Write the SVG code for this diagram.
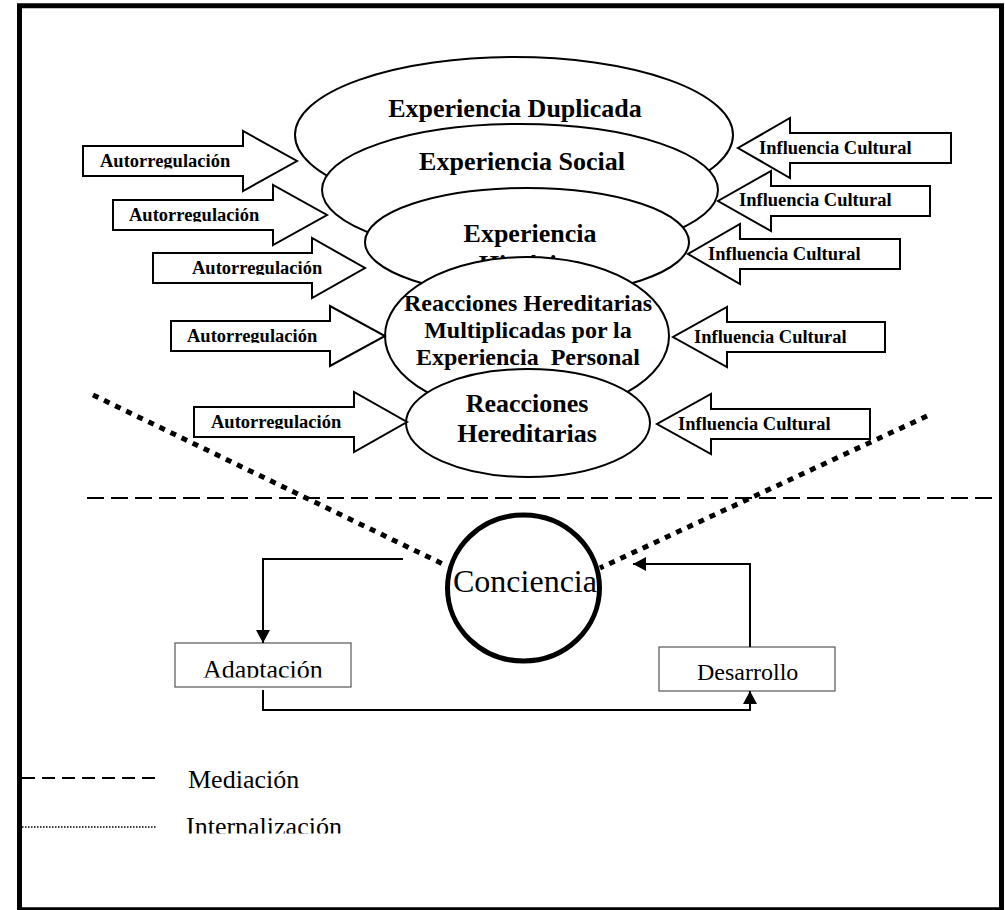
<svg xmlns="http://www.w3.org/2000/svg" width="1005" height="910" viewBox="0 0 1005 910">
<style>
.t{font-family:"Liberation Serif","Times New Roman",serif;fill:#000}
.b{font-weight:bold}
.ell{fill:#fff;stroke:#000;stroke-width:2}
.arr{fill:#fff;stroke:#000;stroke-width:2;stroke-linejoin:miter}
.au{font-size:18.5px;font-weight:bold}
.box{fill:#fff;stroke:#555;stroke-width:1.2}
.con{fill:none;stroke:#000;stroke-width:2}
</style>
<defs>
<marker id="ah" markerWidth="14" markerHeight="14" refX="13" refY="7" orient="auto" markerUnits="userSpaceOnUse"><path d="M0,0 L13,7 L0,14 z" fill="#000"/></marker>
<clipPath id="cA1"><rect x="90" y="140" width="160" height="28.5"/></clipPath>
<clipPath id="cA2"><rect x="120" y="195" width="160" height="27"/></clipPath>
<clipPath id="cA3"><rect x="180" y="248" width="160" height="27"/></clipPath>
<clipPath id="cA4"><rect x="175" y="316" width="160" height="27"/></clipPath>
<clipPath id="cA5"><rect x="200" y="402" width="160" height="27"/></clipPath>
<clipPath id="cAd"><rect x="176" y="644" width="174" height="33.5"/></clipPath>
<clipPath id="cIn"><rect x="180" y="800" width="200" height="33.5"/></clipPath>
</defs>
<rect x="0" y="0" width="1005" height="910" fill="#fff"/>
<rect id="frame" x="19.5" y="5.75" width="982" height="904" fill="none" stroke="#000" stroke-width="5"/>

<g id="e1"><ellipse class="ell" cx="514" cy="135" rx="219" ry="78"/><text class="t b" x="515" y="117" font-size="26" text-anchor="middle">Experiencia Duplicada</text></g>
<g id="e2"><ellipse class="ell" cx="520" cy="190" rx="198" ry="66"/><text class="t b" x="522" y="170" font-size="26" text-anchor="middle">Experiencia Social</text></g>
<g id="e3"><ellipse class="ell" cx="527" cy="242" rx="162" ry="54"/><text class="t b" x="530" y="242" font-size="26" text-anchor="middle">Experiencia</text><text class="t b" x="530" y="273" font-size="26" text-anchor="middle">Histórica</text></g>
<g id="e4"><ellipse class="ell" cx="527" cy="336" rx="142" ry="79"/><text class="t b" font-size="24" text-anchor="middle" style="white-space:pre"><tspan x="528" y="311">Reacciones Hereditarias</tspan><tspan x="528" y="338">Multiplicadas por la</tspan><tspan x="528" y="365">Experiencia  Personal</tspan></text></g>
<g id="e5"><ellipse class="ell" cx="528" cy="423" rx="122" ry="54"/><text class="t b" font-size="26" text-anchor="middle"><tspan x="527" y="412">Reacciones</tspan><tspan x="527" y="442">Hereditarias</tspan></text></g>

<g id="a1"><polygon class="arr" points="83,146 243,146 243,131 297,161 243,191 243,176 83,176"/><text class="t au" x="100" y="167" clip-path="url(#cA1)">Autorregulación</text></g>
<g id="a2"><polygon class="arr" points="113,200 273,200 273,185 327,215 273,245 273,230 113,230"/><text class="t au" x="129" y="221" clip-path="url(#cA2)">Autorregulación</text></g>
<g id="a3"><polygon class="arr" points="153,253 312,253 312,238 365,268 312,298 312,283 153,283"/><text class="t au" x="192" y="274" clip-path="url(#cA3)">Autorregulación</text></g>
<g id="a4"><polygon class="arr" points="171,321 330,321 330,306 385,336 330,366 330,351 171,351"/><text class="t au" x="187" y="342" clip-path="url(#cA4)">Autorregulación</text></g>
<g id="a5"><polygon class="arr" points="194,407 354,407 354,392 407,422 354,452 354,437 194,437"/><text class="t au" x="211" y="428" clip-path="url(#cA5)">Autorregulación</text></g>

<g id="i1"><polygon class="arr" points="951,133 790,133 790,118 738,148 790,178 790,163 951,163"/><text class="t au" x="759" y="154">Influencia Cultural</text></g>
<g id="i2"><polygon class="arr" points="930,186 771,186 771,171 718,201 771,231 771,216 930,216"/><text class="t au" x="739" y="206">Influencia Cultural</text></g>
<g id="i3"><polygon class="arr" points="900,239 740,239 740,224 688,254 740,284 740,269 900,269"/><text class="t au" x="708" y="260">Influencia Cultural</text></g>
<g id="i4"><polygon class="arr" points="885,322 727,322 727,307 673,337 727,367 727,352 885,352"/><text class="t au" x="694" y="343">Influencia Cultural</text></g>
<g id="i5"><polygon class="arr" points="870,409 711,409 711,394 657,424 711,454 711,439 870,439"/><text class="t au" x="678" y="430">Influencia Cultural</text></g>

<g id="lines">
<path d="M87,498 H999" fill="none" stroke="#000" stroke-width="2" stroke-dasharray="17 7"/>
<path d="M93,395 L447,566" fill="none" stroke="#000" stroke-width="5" stroke-dasharray="6 6.3"/>
<path d="M927,416 L600,568" fill="none" stroke="#000" stroke-width="5" stroke-dasharray="6 6.3"/>
</g>

<g id="conciencia"><ellipse cx="523.5" cy="588" rx="76" ry="73" fill="none" stroke="#000" stroke-width="5"/><text class="t" x="453" y="592" font-size="32">Conciencia</text></g>
<g id="adaptacion"><rect class="box" x="175" y="643" width="176" height="44"/><text class="t" x="203" y="678" font-size="26" clip-path="url(#cAd)">Adaptación</text></g>
<g id="desarrollo"><rect class="box" x="659" y="647" width="176" height="44"/><text class="t" x="697" y="680" font-size="24">Desarrollo</text></g>

<g id="connectors">
<path class="con" d="M403,559 H263 V643" marker-end="url(#ah)"/>
<path class="con" d="M263,690 V710 H750 V691" marker-end="url(#ah)"/>
<path class="con" d="M750,647 V564 H633" marker-end="url(#ah)"/>
</g>

<g id="legend">
<path d="M22,778 H157" fill="none" stroke="#000" stroke-width="2" stroke-dasharray="13 7"/>
<text class="t" x="188" y="788" font-size="26">Mediación</text>
<path d="M22,827 H157" fill="none" stroke="#000" stroke-width="1.5" stroke-dasharray="1.5 1.5"/>
<text class="t" x="186" y="835" font-size="26" clip-path="url(#cIn)">Internalización</text>
</g>
</svg>
